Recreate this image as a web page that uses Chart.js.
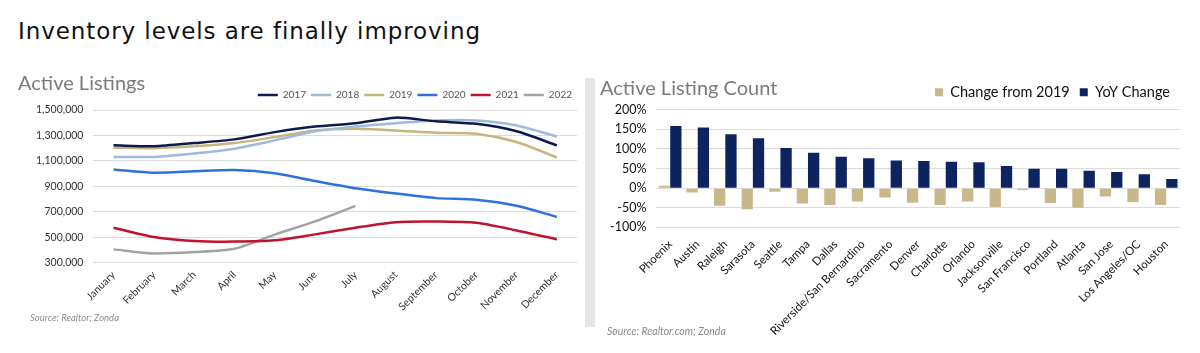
<!DOCTYPE html>
<html>
<head>
<meta charset="utf-8">
<script src="https://cdn.jsdelivr.net/npm/chart.js@4.4.1/dist/chart.umd.min.js"></script>
<style>
  html, body { margin: 0; padding: 0; background: #fff; }
  body { width: 1200px; height: 353px; position: relative; overflow: hidden; font-family: "Lato", "Noto Sans", sans-serif; }
  #mainTitle { position: absolute; left: 18px; top: 18px; font-family: "DejaVu Sans", sans-serif; font-size: 23px; font-weight: 400; color: #111; white-space: nowrap; }
  .ctitle { position: absolute; font-family: "Lato", sans-serif; color: #7b7b7b; font-size: 20px; white-space: nowrap; z-index: 2; }
  .src { position: absolute; font-style: italic; color: #8a8a8a; white-space: nowrap; z-index: 2; font-family: "Lato", sans-serif; }
  #sep { position: absolute; left: 585px; top: 78px; width: 10px; height: 249px; background: #e6e6e6; }
  #leftBox { position: absolute; left: 0; top: 0; width: 585px; height: 353px; }
  #rightBox { position: absolute; left: 597px; top: 0; width: 603px; height: 353px; }
</style>
</head>
<body>
<div id="mainTitle">Inventory levels are finally improving</div>
<div class="ctitle" style="left:18px; top:70px;">Active Listings</div>
<div class="ctitle" style="left:600px; top:75px;">Active Listing Count</div>
<div class="src" style="left:30px; top:312px; font-size:9.5px;">Source: Realtor; Zonda</div>
<div class="src" style="left:607px; top:325px; font-size:10.5px;">Source: Realtor.com; Zonda</div>
<div id="sep"></div>
<div id="leftBox"><canvas id="left"></canvas></div>
<div id="rightBox"><canvas id="right"></canvas></div>
<script>
// ---- Left chart data: Active Listings by month ----
const months = ['January','February','March','April','May','June','July','August','September','October','November','December'];
const listings2017 = [1222000,1215000,1240000,1269000,1326000,1370000,1396000,1440000,1411000,1391000,1333000,1222000];
const listings2018 = [1131000,1131000,1158000,1196000,1261000,1333000,1370000,1396000,1417000,1417000,1378000,1292000];
const listings2019 = [1204000,1200000,1214000,1240000,1287000,1339000,1352000,1339000,1321000,1313000,1248000,1126000];
const listings2020 = [1033000,1007000,1018000,1028000,1002000,942000,885000,844000,807000,794000,747000,659000];
const listings2021 = [574000,501000,470000,465000,475000,522000,574000,618000,623000,613000,553000,483000];
const listings2022 = [404000,372000,383000,409000,520000,624000,746000];
const yearLabels = ['2017','2018','2019','2020','2021','2022'];

// ---- Right chart data: Active Listing Count change by metro (%) ----
const cities = ['Phoenix','Austin','Raleigh','Sarasota','Seattle','Tampa','Dallas','Riverside/San Bernardino','Sacramento','Denver','Charlotte','Orlando','Jacksonville','San Francisco','Portland','Atlanta','San Jose','Los Angeles/OC','Houston'];
const changeFrom2019 = [6,-11,-45,-54,-9,-39,-43,-34,-24,-37,-43,-34,-48,-5,-38,-50,-21,-35,-43];
const yoyChange = [158,154,137,127,102,90,80,76,70,69,67,66,56,49,49,44,41,35,23];
const seriesLabels = ['Change from 2019','YoY Change'];

// fit main title width to reference
(function(){
  const t = document.getElementById('mainTitle');
  const n = t.textContent.length;
  const w = t.getBoundingClientRect().width;
  t.style.letterSpacing = ((462 - w) / (n - 1)) + 'px';
})();

const lineColors = ['#0e1a4d','#9dbbdb','#c8b57d','#2f72de','#c1132d','#a3a3a3'];
const lineData = [listings2017, listings2018, listings2019, listings2020, listings2021, listings2022];

new Chart(document.getElementById('left'), {
  type: 'line',
  data: {
    labels: months,
    datasets: yearLabels.map((y, i) => ({
      label: y,
      data: lineData[i],
      borderColor: lineColors[i],
      backgroundColor: lineColors[i],
      borderWidth: 2.5,
      pointRadius: 0,
      tension: 0.25,
      fill: false
    }))
  },
  options: {
    responsive: true,
    maintainAspectRatio: false,
    animation: false,
    layout: { padding: { top: 85, left: 26, right: 8, bottom: 34 } },
    plugins: {
      legend: {
        position: 'top',
        align: 'end',
        labels: {
          usePointStyle: true,
          pointStyle: 'line',
          pointStyleWidth: 20,
          boxHeight: 9,
          padding: 5,
          color: '#555',
          font: { family: 'Lato', size: 10 }
        }
      },
      tooltip: { enabled: false }
    },
    scales: {
      x: {
        offset: true,
        grid: { display: false, drawTicks: false },
        border: { display: false },
        ticks: { maxRotation: 45, minRotation: 45, autoSkip: false, padding: 6, color: '#333', font: { family: 'Lato', size: 10.5 } }
      },
      y: {
        min: 300000, max: 1500000,
        grid: { color: '#dcdcdc', lineWidth: 1, drawTicks: false },
        border: { display: false },
        ticks: { stepSize: 200000, padding: 10, color: '#333', font: { family: 'Lato', size: 10.5 },
          callback: v => v.toLocaleString('en-US') }
      }
    }
  }
});

new Chart(document.getElementById('right'), {
  type: 'bar',
  data: {
    labels: cities,
    datasets: [
      { label: seriesLabels[0], data: changeFrom2019, backgroundColor: '#c9b98a', borderWidth: 0 },
      { label: seriesLabels[1], data: yoyChange, backgroundColor: '#0e2460', borderWidth: 0 }
    ]
  },
  options: {
    responsive: true,
    maintainAspectRatio: false,
    animation: false,
    layout: { padding: { top: 75, left: 3, right: 20, bottom: 5 } },
    datasets: { bar: { categoryPercentage: 0.82, barPercentage: 1.0 } },
    plugins: {
      legend: {
        position: 'top',
        align: 'end',
        labels: {
          boxWidth: 8,
          boxHeight: 8,
          padding: 10,
          color: '#111',
          font: { family: 'Lato', size: 14.5 }
        }
      },
      tooltip: { enabled: false }
    },
    scales: {
      x: {
        grid: { display: false, drawTicks: false },
        border: { display: false },
        ticks: { maxRotation: 45, minRotation: 45, autoSkip: false, padding: 10, color: '#111', font: { family: 'Lato', size: 11.5 } }
      },
      y: {
        min: -100, max: 200,
        grid: { color: '#dcdcdc', lineWidth: 1, drawTicks: false },
        border: { display: false },
        ticks: { stepSize: 50, padding: 10, color: '#111', font: { family: 'Lato', size: 12.5 },
          callback: v => v + '%' }
      }
    }
  }
});
</script>
</body>
</html>
